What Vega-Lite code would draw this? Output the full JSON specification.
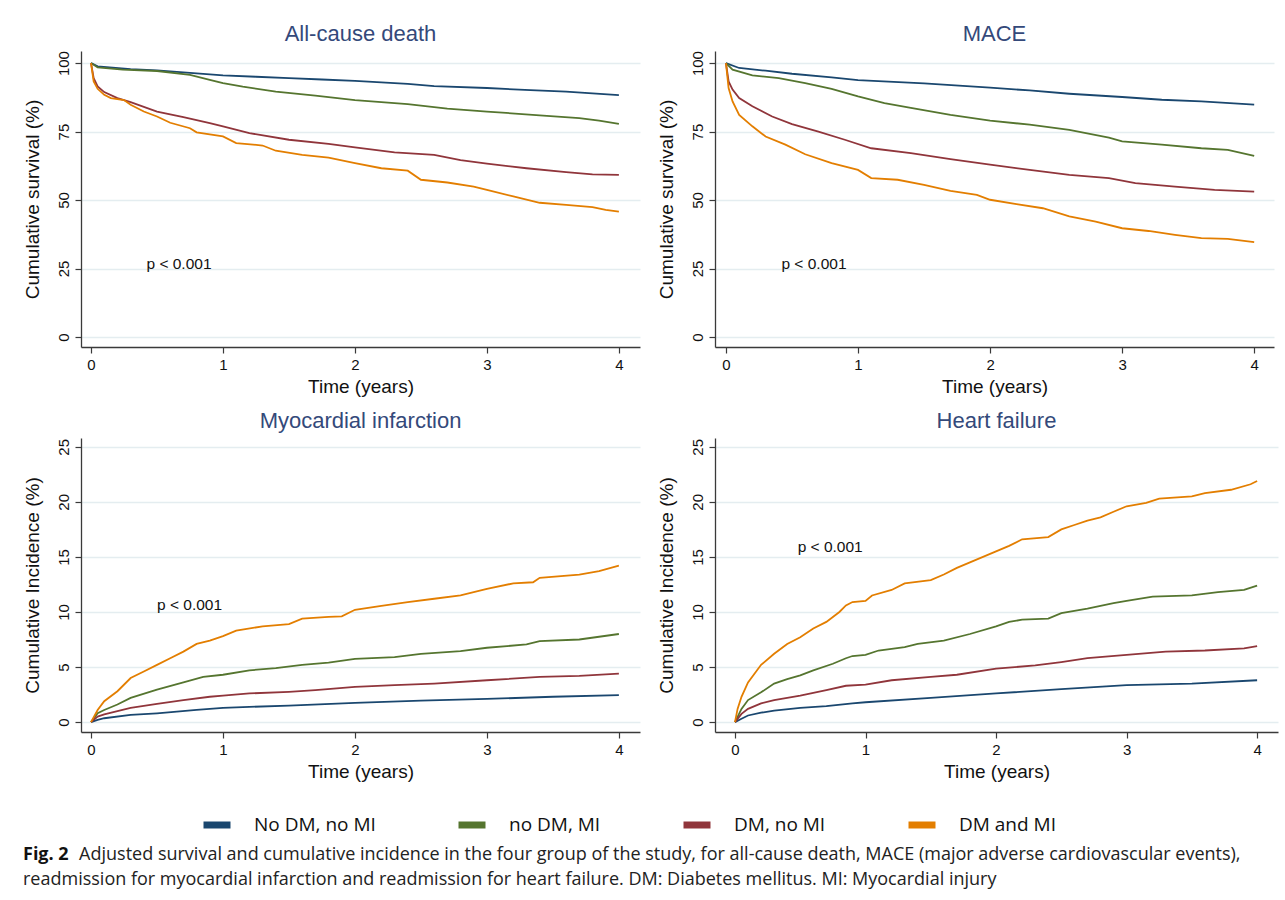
{
  "$schema": "https://vega.github.io/schema/vega-lite/v6.json",
  "background": "white",
  "padding": {"left": 22, "top": 22, "right": 5, "bottom": 5},
  "datasets": {
    "curves": [
      {"p":"death","g":"No DM, no MI","t":0,"v":100},{"p":"death","g":"No DM, no MI","t":0.05,"v":98.8},{"p":"death","g":"No DM, no MI","t":0.3,"v":97.8},{"p":"death","g":"No DM, no MI","t":0.5,"v":97.3},{"p":"death","g":"No DM, no MI","t":0.75,"v":96.4},{"p":"death","g":"No DM, no MI","t":1,"v":95.5},{"p":"death","g":"No DM, no MI","t":1.25,"v":95.0},{"p":"death","g":"No DM, no MI","t":1.5,"v":94.5},{"p":"death","g":"No DM, no MI","t":1.75,"v":94.0},{"p":"death","g":"No DM, no MI","t":2,"v":93.5},{"p":"death","g":"No DM, no MI","t":2.4,"v":92.4},{"p":"death","g":"No DM, no MI","t":2.6,"v":91.6},{"p":"death","g":"No DM, no MI","t":3,"v":90.9},{"p":"death","g":"No DM, no MI","t":3.33,"v":90.1},{"p":"death","g":"No DM, no MI","t":3.6,"v":89.6},{"p":"death","g":"No DM, no MI","t":4,"v":88.3},
      {"p":"death","g":"no DM, MI","t":0,"v":100},{"p":"death","g":"no DM, MI","t":0.05,"v":98.4},{"p":"death","g":"no DM, MI","t":0.24,"v":97.6},{"p":"death","g":"no DM, MI","t":0.5,"v":97.1},{"p":"death","g":"no DM, MI","t":0.75,"v":95.7},{"p":"death","g":"no DM, MI","t":0.9,"v":93.9},{"p":"death","g":"no DM, MI","t":1,"v":92.7},{"p":"death","g":"no DM, MI","t":1.15,"v":91.4},{"p":"death","g":"no DM, MI","t":1.4,"v":89.6},{"p":"death","g":"no DM, MI","t":1.7,"v":88.1},{"p":"death","g":"no DM, MI","t":2,"v":86.5},{"p":"death","g":"no DM, MI","t":2.4,"v":85.0},{"p":"death","g":"no DM, MI","t":2.7,"v":83.4},{"p":"death","g":"no DM, MI","t":3,"v":82.3},{"p":"death","g":"no DM, MI","t":3.4,"v":80.9},{"p":"death","g":"no DM, MI","t":3.7,"v":79.9},{"p":"death","g":"no DM, MI","t":3.85,"v":79.0},{"p":"death","g":"no DM, MI","t":4,"v":77.8},
      {"p":"death","g":"DM, no MI","t":0,"v":100},{"p":"death","g":"DM, no MI","t":0.02,"v":94.5},{"p":"death","g":"DM, no MI","t":0.05,"v":91.5},{"p":"death","g":"DM, no MI","t":0.1,"v":89.4},{"p":"death","g":"DM, no MI","t":0.2,"v":87.2},{"p":"death","g":"DM, no MI","t":0.3,"v":85.7},{"p":"death","g":"DM, no MI","t":0.5,"v":82.3},{"p":"death","g":"DM, no MI","t":0.7,"v":80.3},{"p":"death","g":"DM, no MI","t":0.9,"v":78.1},{"p":"death","g":"DM, no MI","t":1,"v":76.9},{"p":"death","g":"DM, no MI","t":1.2,"v":74.4},{"p":"death","g":"DM, no MI","t":1.5,"v":72.0},{"p":"death","g":"DM, no MI","t":1.8,"v":70.5},{"p":"death","g":"DM, no MI","t":2,"v":69.2},{"p":"death","g":"DM, no MI","t":2.3,"v":67.4},{"p":"death","g":"DM, no MI","t":2.6,"v":66.5},{"p":"death","g":"DM, no MI","t":2.8,"v":64.6},{"p":"death","g":"DM, no MI","t":3,"v":63.3},{"p":"death","g":"DM, no MI","t":3.3,"v":61.6},{"p":"death","g":"DM, no MI","t":3.6,"v":60.2},{"p":"death","g":"DM, no MI","t":3.8,"v":59.4},{"p":"death","g":"DM, no MI","t":4,"v":59.2},
      {"p":"death","g":"DM and MI","t":0,"v":100},{"p":"death","g":"DM and MI","t":0.02,"v":93.3},{"p":"death","g":"DM and MI","t":0.05,"v":90.6},{"p":"death","g":"DM and MI","t":0.1,"v":88.4},{"p":"death","g":"DM and MI","t":0.15,"v":87.2},{"p":"death","g":"DM and MI","t":0.25,"v":86.5},{"p":"death","g":"DM and MI","t":0.3,"v":84.8},{"p":"death","g":"DM and MI","t":0.4,"v":82.3},{"p":"death","g":"DM and MI","t":0.5,"v":80.5},{"p":"death","g":"DM and MI","t":0.6,"v":78.2},{"p":"death","g":"DM and MI","t":0.75,"v":76.2},{"p":"death","g":"DM and MI","t":0.8,"v":74.7},{"p":"death","g":"DM and MI","t":1,"v":73.2},{"p":"death","g":"DM and MI","t":1.1,"v":70.8},{"p":"death","g":"DM and MI","t":1.3,"v":69.9},{"p":"death","g":"DM and MI","t":1.4,"v":68.0},{"p":"death","g":"DM and MI","t":1.6,"v":66.5},{"p":"death","g":"DM and MI","t":1.8,"v":65.5},{"p":"death","g":"DM and MI","t":2,"v":63.5},{"p":"death","g":"DM and MI","t":2.2,"v":61.6},{"p":"death","g":"DM and MI","t":2.4,"v":60.7},{"p":"death","g":"DM and MI","t":2.5,"v":57.4},{"p":"death","g":"DM and MI","t":2.7,"v":56.4},{"p":"death","g":"DM and MI","t":2.9,"v":54.9},{"p":"death","g":"DM and MI","t":3,"v":53.7},{"p":"death","g":"DM and MI","t":3.2,"v":51.3},{"p":"death","g":"DM and MI","t":3.4,"v":49.0},{"p":"death","g":"DM and MI","t":3.6,"v":48.2},{"p":"death","g":"DM and MI","t":3.8,"v":47.4},{"p":"death","g":"DM and MI","t":3.9,"v":46.4},{"p":"death","g":"DM and MI","t":4,"v":45.8},

      {"p":"mace","g":"No DM, no MI","t":0,"v":100},{"p":"mace","g":"No DM, no MI","t":0.1,"v":98.2},{"p":"mace","g":"No DM, no MI","t":0.3,"v":97.2},{"p":"mace","g":"No DM, no MI","t":0.5,"v":96.1},{"p":"mace","g":"No DM, no MI","t":0.8,"v":94.8},{"p":"mace","g":"No DM, no MI","t":1,"v":93.8},{"p":"mace","g":"No DM, no MI","t":1.5,"v":92.6},{"p":"mace","g":"No DM, no MI","t":2,"v":91.0},{"p":"mace","g":"No DM, no MI","t":2.3,"v":90.0},{"p":"mace","g":"No DM, no MI","t":2.6,"v":88.8},{"p":"mace","g":"No DM, no MI","t":3,"v":87.6},{"p":"mace","g":"No DM, no MI","t":3.3,"v":86.6},{"p":"mace","g":"No DM, no MI","t":3.6,"v":86.0},{"p":"mace","g":"No DM, no MI","t":4,"v":84.8},
      {"p":"mace","g":"no DM, MI","t":0,"v":100},{"p":"mace","g":"no DM, MI","t":0.05,"v":97.6},{"p":"mace","g":"no DM, MI","t":0.2,"v":95.5},{"p":"mace","g":"no DM, MI","t":0.4,"v":94.5},{"p":"mace","g":"no DM, MI","t":0.6,"v":92.7},{"p":"mace","g":"no DM, MI","t":0.8,"v":90.6},{"p":"mace","g":"no DM, MI","t":1,"v":87.8},{"p":"mace","g":"no DM, MI","t":1.2,"v":85.4},{"p":"mace","g":"no DM, MI","t":1.4,"v":83.6},{"p":"mace","g":"no DM, MI","t":1.7,"v":81.1},{"p":"mace","g":"no DM, MI","t":2,"v":79.0},{"p":"mace","g":"no DM, MI","t":2.3,"v":77.5},{"p":"mace","g":"no DM, MI","t":2.6,"v":75.6},{"p":"mace","g":"no DM, MI","t":2.9,"v":72.8},{"p":"mace","g":"no DM, MI","t":3,"v":71.4},{"p":"mace","g":"no DM, MI","t":3.3,"v":70.2},{"p":"mace","g":"no DM, MI","t":3.6,"v":68.9},{"p":"mace","g":"no DM, MI","t":3.8,"v":68.3},{"p":"mace","g":"no DM, MI","t":4,"v":66.1},
      {"p":"mace","g":"DM, no MI","t":0,"v":100},{"p":"mace","g":"DM, no MI","t":0.02,"v":93.3},{"p":"mace","g":"DM, no MI","t":0.05,"v":90.3},{"p":"mace","g":"DM, no MI","t":0.1,"v":87.2},{"p":"mace","g":"DM, no MI","t":0.2,"v":84.2},{"p":"mace","g":"DM, no MI","t":0.35,"v":80.5},{"p":"mace","g":"DM, no MI","t":0.5,"v":77.7},{"p":"mace","g":"DM, no MI","t":0.7,"v":75.0},{"p":"mace","g":"DM, no MI","t":0.9,"v":72.0},{"p":"mace","g":"DM, no MI","t":1.1,"v":68.9},{"p":"mace","g":"DM, no MI","t":1.4,"v":67.1},{"p":"mace","g":"DM, no MI","t":1.7,"v":64.9},{"p":"mace","g":"DM, no MI","t":2,"v":62.9},{"p":"mace","g":"DM, no MI","t":2.3,"v":61.0},{"p":"mace","g":"DM, no MI","t":2.6,"v":59.2},{"p":"mace","g":"DM, no MI","t":2.9,"v":58.0},{"p":"mace","g":"DM, no MI","t":3.1,"v":56.2},{"p":"mace","g":"DM, no MI","t":3.4,"v":54.9},{"p":"mace","g":"DM, no MI","t":3.7,"v":53.7},{"p":"mace","g":"DM, no MI","t":4,"v":53.1},
      {"p":"mace","g":"DM and MI","t":0,"v":100},{"p":"mace","g":"DM and MI","t":0.02,"v":90.9},{"p":"mace","g":"DM and MI","t":0.05,"v":86.0},{"p":"mace","g":"DM and MI","t":0.1,"v":81.1},{"p":"mace","g":"DM and MI","t":0.2,"v":76.9},{"p":"mace","g":"DM and MI","t":0.3,"v":73.2},{"p":"mace","g":"DM and MI","t":0.45,"v":70.2},{"p":"mace","g":"DM and MI","t":0.6,"v":66.7},{"p":"mace","g":"DM and MI","t":0.8,"v":63.5},{"p":"mace","g":"DM and MI","t":1,"v":61.0},{"p":"mace","g":"DM and MI","t":1.1,"v":58.0},{"p":"mace","g":"DM and MI","t":1.3,"v":57.4},{"p":"mace","g":"DM and MI","t":1.5,"v":55.5},{"p":"mace","g":"DM and MI","t":1.7,"v":53.3},{"p":"mace","g":"DM and MI","t":1.9,"v":51.9},{"p":"mace","g":"DM and MI","t":2,"v":50.1},{"p":"mace","g":"DM and MI","t":2.2,"v":48.5},{"p":"mace","g":"DM and MI","t":2.4,"v":47.0},{"p":"mace","g":"DM and MI","t":2.6,"v":44.0},{"p":"mace","g":"DM and MI","t":2.8,"v":42.1},{"p":"mace","g":"DM and MI","t":3,"v":39.7},{"p":"mace","g":"DM and MI","t":3.2,"v":38.7},{"p":"mace","g":"DM and MI","t":3.4,"v":37.3},{"p":"mace","g":"DM and MI","t":3.6,"v":36.1},{"p":"mace","g":"DM and MI","t":3.8,"v":35.8},{"p":"mace","g":"DM and MI","t":4,"v":34.6},

      {"p":"mi","g":"No DM, no MI","t":0,"v":0},{"p":"mi","g":"No DM, no MI","t":0.05,"v":0.2},{"p":"mi","g":"No DM, no MI","t":0.1,"v":0.35},{"p":"mi","g":"No DM, no MI","t":0.3,"v":0.65},{"p":"mi","g":"No DM, no MI","t":0.5,"v":0.8},{"p":"mi","g":"No DM, no MI","t":0.8,"v":1.1},{"p":"mi","g":"No DM, no MI","t":1,"v":1.3},{"p":"mi","g":"No DM, no MI","t":1.5,"v":1.5},{"p":"mi","g":"No DM, no MI","t":2,"v":1.75},{"p":"mi","g":"No DM, no MI","t":2.5,"v":1.95},{"p":"mi","g":"No DM, no MI","t":3,"v":2.1},{"p":"mi","g":"No DM, no MI","t":3.5,"v":2.3},{"p":"mi","g":"No DM, no MI","t":4,"v":2.45},
      {"p":"mi","g":"no DM, MI","t":0,"v":0},{"p":"mi","g":"no DM, MI","t":0.05,"v":0.8},{"p":"mi","g":"no DM, MI","t":0.1,"v":1.1},{"p":"mi","g":"no DM, MI","t":0.2,"v":1.6},{"p":"mi","g":"no DM, MI","t":0.3,"v":2.2},{"p":"mi","g":"no DM, MI","t":0.5,"v":2.95},{"p":"mi","g":"no DM, MI","t":0.7,"v":3.6},{"p":"mi","g":"no DM, MI","t":0.85,"v":4.1},{"p":"mi","g":"no DM, MI","t":1,"v":4.3},{"p":"mi","g":"no DM, MI","t":1.2,"v":4.7},{"p":"mi","g":"no DM, MI","t":1.4,"v":4.9},{"p":"mi","g":"no DM, MI","t":1.6,"v":5.2},{"p":"mi","g":"no DM, MI","t":1.8,"v":5.4},{"p":"mi","g":"no DM, MI","t":2,"v":5.75},{"p":"mi","g":"no DM, MI","t":2.3,"v":5.9},{"p":"mi","g":"no DM, MI","t":2.5,"v":6.2},{"p":"mi","g":"no DM, MI","t":2.8,"v":6.45},{"p":"mi","g":"no DM, MI","t":3,"v":6.75},{"p":"mi","g":"no DM, MI","t":3.3,"v":7.05},{"p":"mi","g":"no DM, MI","t":3.4,"v":7.35},{"p":"mi","g":"no DM, MI","t":3.7,"v":7.5},{"p":"mi","g":"no DM, MI","t":4,"v":8.0},
      {"p":"mi","g":"DM, no MI","t":0,"v":0},{"p":"mi","g":"DM, no MI","t":0.05,"v":0.5},{"p":"mi","g":"DM, no MI","t":0.1,"v":0.7},{"p":"mi","g":"DM, no MI","t":0.2,"v":1.0},{"p":"mi","g":"DM, no MI","t":0.3,"v":1.3},{"p":"mi","g":"DM, no MI","t":0.5,"v":1.65},{"p":"mi","g":"DM, no MI","t":0.7,"v":2.0},{"p":"mi","g":"DM, no MI","t":0.9,"v":2.3},{"p":"mi","g":"DM, no MI","t":1,"v":2.4},{"p":"mi","g":"DM, no MI","t":1.2,"v":2.6},{"p":"mi","g":"DM, no MI","t":1.5,"v":2.75},{"p":"mi","g":"DM, no MI","t":1.7,"v":2.9},{"p":"mi","g":"DM, no MI","t":2,"v":3.2},{"p":"mi","g":"DM, no MI","t":2.3,"v":3.35},{"p":"mi","g":"DM, no MI","t":2.6,"v":3.5},{"p":"mi","g":"DM, no MI","t":3,"v":3.8},{"p":"mi","g":"DM, no MI","t":3.4,"v":4.1},{"p":"mi","g":"DM, no MI","t":3.7,"v":4.2},{"p":"mi","g":"DM, no MI","t":4,"v":4.4},
      {"p":"mi","g":"DM and MI","t":0,"v":0},{"p":"mi","g":"DM and MI","t":0.05,"v":1.1},{"p":"mi","g":"DM and MI","t":0.1,"v":1.9},{"p":"mi","g":"DM and MI","t":0.2,"v":2.8},{"p":"mi","g":"DM and MI","t":0.3,"v":4.0},{"p":"mi","g":"DM and MI","t":0.4,"v":4.6},{"p":"mi","g":"DM and MI","t":0.5,"v":5.2},{"p":"mi","g":"DM and MI","t":0.6,"v":5.8},{"p":"mi","g":"DM and MI","t":0.7,"v":6.4},{"p":"mi","g":"DM and MI","t":0.8,"v":7.1},{"p":"mi","g":"DM and MI","t":0.9,"v":7.4},{"p":"mi","g":"DM and MI","t":1,"v":7.8},{"p":"mi","g":"DM and MI","t":1.1,"v":8.3},{"p":"mi","g":"DM and MI","t":1.3,"v":8.7},{"p":"mi","g":"DM and MI","t":1.5,"v":8.9},{"p":"mi","g":"DM and MI","t":1.6,"v":9.4},{"p":"mi","g":"DM and MI","t":1.8,"v":9.55},{"p":"mi","g":"DM and MI","t":1.9,"v":9.6},{"p":"mi","g":"DM and MI","t":2,"v":10.2},{"p":"mi","g":"DM and MI","t":2.2,"v":10.55},{"p":"mi","g":"DM and MI","t":2.4,"v":10.9},{"p":"mi","g":"DM and MI","t":2.6,"v":11.2},{"p":"mi","g":"DM and MI","t":2.8,"v":11.5},{"p":"mi","g":"DM and MI","t":3,"v":12.1},{"p":"mi","g":"DM and MI","t":3.2,"v":12.6},{"p":"mi","g":"DM and MI","t":3.35,"v":12.7},{"p":"mi","g":"DM and MI","t":3.4,"v":13.1},{"p":"mi","g":"DM and MI","t":3.7,"v":13.4},{"p":"mi","g":"DM and MI","t":3.85,"v":13.7},{"p":"mi","g":"DM and MI","t":4,"v":14.2},

      {"p":"hf","g":"No DM, no MI","t":0,"v":0},{"p":"hf","g":"No DM, no MI","t":0.05,"v":0.3},{"p":"hf","g":"No DM, no MI","t":0.1,"v":0.6},{"p":"hf","g":"No DM, no MI","t":0.2,"v":0.85},{"p":"hf","g":"No DM, no MI","t":0.3,"v":1.05},{"p":"hf","g":"No DM, no MI","t":0.5,"v":1.3},{"p":"hf","g":"No DM, no MI","t":0.7,"v":1.45},{"p":"hf","g":"No DM, no MI","t":0.9,"v":1.7},{"p":"hf","g":"No DM, no MI","t":1,"v":1.8},{"p":"hf","g":"No DM, no MI","t":1.5,"v":2.2},{"p":"hf","g":"No DM, no MI","t":2,"v":2.6},{"p":"hf","g":"No DM, no MI","t":2.5,"v":3.0},{"p":"hf","g":"No DM, no MI","t":3,"v":3.35},{"p":"hf","g":"No DM, no MI","t":3.5,"v":3.5},{"p":"hf","g":"No DM, no MI","t":4,"v":3.8},
      {"p":"hf","g":"no DM, MI","t":0,"v":0},{"p":"hf","g":"no DM, MI","t":0.05,"v":1.2},{"p":"hf","g":"no DM, MI","t":0.1,"v":2.0},{"p":"hf","g":"no DM, MI","t":0.2,"v":2.7},{"p":"hf","g":"no DM, MI","t":0.3,"v":3.5},{"p":"hf","g":"no DM, MI","t":0.4,"v":3.9},{"p":"hf","g":"no DM, MI","t":0.5,"v":4.25},{"p":"hf","g":"no DM, MI","t":0.6,"v":4.7},{"p":"hf","g":"no DM, MI","t":0.75,"v":5.3},{"p":"hf","g":"no DM, MI","t":0.85,"v":5.8},{"p":"hf","g":"no DM, MI","t":0.9,"v":6.0},{"p":"hf","g":"no DM, MI","t":1,"v":6.1},{"p":"hf","g":"no DM, MI","t":1.1,"v":6.5},{"p":"hf","g":"no DM, MI","t":1.3,"v":6.8},{"p":"hf","g":"no DM, MI","t":1.4,"v":7.1},{"p":"hf","g":"no DM, MI","t":1.6,"v":7.4},{"p":"hf","g":"no DM, MI","t":1.8,"v":8.0},{"p":"hf","g":"no DM, MI","t":2,"v":8.7},{"p":"hf","g":"no DM, MI","t":2.1,"v":9.1},{"p":"hf","g":"no DM, MI","t":2.2,"v":9.3},{"p":"hf","g":"no DM, MI","t":2.4,"v":9.4},{"p":"hf","g":"no DM, MI","t":2.5,"v":9.9},{"p":"hf","g":"no DM, MI","t":2.7,"v":10.3},{"p":"hf","g":"no DM, MI","t":2.9,"v":10.8},{"p":"hf","g":"no DM, MI","t":3,"v":11.0},{"p":"hf","g":"no DM, MI","t":3.2,"v":11.4},{"p":"hf","g":"no DM, MI","t":3.5,"v":11.5},{"p":"hf","g":"no DM, MI","t":3.7,"v":11.8},{"p":"hf","g":"no DM, MI","t":3.9,"v":12.0},{"p":"hf","g":"no DM, MI","t":4,"v":12.4},
      {"p":"hf","g":"DM, no MI","t":0,"v":0},{"p":"hf","g":"DM, no MI","t":0.05,"v":0.75},{"p":"hf","g":"DM, no MI","t":0.1,"v":1.2},{"p":"hf","g":"DM, no MI","t":0.2,"v":1.7},{"p":"hf","g":"DM, no MI","t":0.3,"v":2.0},{"p":"hf","g":"DM, no MI","t":0.5,"v":2.4},{"p":"hf","g":"DM, no MI","t":0.7,"v":2.9},{"p":"hf","g":"DM, no MI","t":0.85,"v":3.3},{"p":"hf","g":"DM, no MI","t":1,"v":3.4},{"p":"hf","g":"DM, no MI","t":1.2,"v":3.8},{"p":"hf","g":"DM, no MI","t":1.5,"v":4.1},{"p":"hf","g":"DM, no MI","t":1.7,"v":4.3},{"p":"hf","g":"DM, no MI","t":2,"v":4.85},{"p":"hf","g":"DM, no MI","t":2.3,"v":5.15},{"p":"hf","g":"DM, no MI","t":2.5,"v":5.45},{"p":"hf","g":"DM, no MI","t":2.7,"v":5.8},{"p":"hf","g":"DM, no MI","t":3,"v":6.1},{"p":"hf","g":"DM, no MI","t":3.3,"v":6.4},{"p":"hf","g":"DM, no MI","t":3.6,"v":6.5},{"p":"hf","g":"DM, no MI","t":3.9,"v":6.7},{"p":"hf","g":"DM, no MI","t":4,"v":6.9},
      {"p":"hf","g":"DM and MI","t":0,"v":0},{"p":"hf","g":"DM and MI","t":0.02,"v":1.2},{"p":"hf","g":"DM and MI","t":0.05,"v":2.3},{"p":"hf","g":"DM and MI","t":0.1,"v":3.6},{"p":"hf","g":"DM and MI","t":0.2,"v":5.2},{"p":"hf","g":"DM and MI","t":0.3,"v":6.2},{"p":"hf","g":"DM and MI","t":0.4,"v":7.1},{"p":"hf","g":"DM and MI","t":0.5,"v":7.7},{"p":"hf","g":"DM and MI","t":0.6,"v":8.5},{"p":"hf","g":"DM and MI","t":0.7,"v":9.1},{"p":"hf","g":"DM and MI","t":0.8,"v":10.0},{"p":"hf","g":"DM and MI","t":0.85,"v":10.6},{"p":"hf","g":"DM and MI","t":0.9,"v":10.9},{"p":"hf","g":"DM and MI","t":1,"v":11.0},{"p":"hf","g":"DM and MI","t":1.05,"v":11.5},{"p":"hf","g":"DM and MI","t":1.2,"v":12.0},{"p":"hf","g":"DM and MI","t":1.3,"v":12.6},{"p":"hf","g":"DM and MI","t":1.5,"v":12.9},{"p":"hf","g":"DM and MI","t":1.6,"v":13.4},{"p":"hf","g":"DM and MI","t":1.7,"v":14.0},{"p":"hf","g":"DM and MI","t":1.8,"v":14.5},{"p":"hf","g":"DM and MI","t":1.9,"v":15.0},{"p":"hf","g":"DM and MI","t":2,"v":15.5},{"p":"hf","g":"DM and MI","t":2.1,"v":16.0},{"p":"hf","g":"DM and MI","t":2.2,"v":16.6},{"p":"hf","g":"DM and MI","t":2.4,"v":16.8},{"p":"hf","g":"DM and MI","t":2.5,"v":17.5},{"p":"hf","g":"DM and MI","t":2.6,"v":17.9},{"p":"hf","g":"DM and MI","t":2.7,"v":18.3},{"p":"hf","g":"DM and MI","t":2.8,"v":18.6},{"p":"hf","g":"DM and MI","t":2.9,"v":19.1},{"p":"hf","g":"DM and MI","t":3,"v":19.6},{"p":"hf","g":"DM and MI","t":3.15,"v":19.9},{"p":"hf","g":"DM and MI","t":3.25,"v":20.3},{"p":"hf","g":"DM and MI","t":3.5,"v":20.5},{"p":"hf","g":"DM and MI","t":3.6,"v":20.8},{"p":"hf","g":"DM and MI","t":3.8,"v":21.1},{"p":"hf","g":"DM and MI","t":3.95,"v":21.6},{"p":"hf","g":"DM and MI","t":4,"v":21.9}
    ],
    "notes": [
      {"p":"death","t":0.42,"v":26.6,"label":"p < 0.001"},
      {"p":"mace","t":0.42,"v":26.6,"label":"p < 0.001"},
      {"p":"mi","t":0.5,"v":10.6,"label":"p < 0.001"},
      {"p":"hf","t":0.48,"v":15.9,"label":"p < 0.001"}
    ]
  },
  "title": {
    "text": "Fig. 2",
    "subtitle": ["\u200b\u00a0\u00a0\u00a0\u00a0\u00a0\u00a0\u00a0\u00a0\u00a0\u00a0\u00a0\u00a0Adjusted survival and cumulative incidence in the four group of the study, for all-cause death, MACE (major adverse cardiovascular events),", "readmission for myocardial infarction and readmission for heart failure. DM: Diabetes mellitus. MI: Myocardial injury"],
    "orient": "bottom", "anchor": "start", "frame": "bounds",
    "font": "Open Sans", "fontSize": 18, "fontWeight": "bold", "color": "#111111",
    "subtitleFont": "Open Sans", "subtitleFontSize": 18, "subtitleFontWeight": "normal", "subtitleColor": "#222222",
    "subtitlePadding": -18, "subtitleLineHeight": 25, "offset": 7
  },
  "columns": 2,
  "bounds": "flush",
  "align": "all",
  "spacing": {"row": 91, "column": 71},
  "concat": [
    {
      "width": 559, "height": 296,
      "title": {"text": "All-cause death"},
      "layer": [
        {
          "data": {"name": "curves"},
          "transform": [{"filter": "datum.p === 'death'"}],
          "mark": {"type": "line", "strokeWidth": 1.8},
          "encoding": {
            "x": {"field": "t", "type": "quantitative", "scale": {"domain": [-0.076, 4.16], "nice": false, "zero": false}, "axis": {"values": [0,1,2,3,4], "format": "d", "title": "Time (years)"}},
            "y": {"field": "v", "type": "quantitative", "scale": {"domain": [-3.65, 104.4], "nice": false, "zero": false}, "axis": {"values": [0,25,50,75,100], "format": "d", "title": "Cumulative survival (%)"}},
            "color": {"field": "g", "type": "nominal", "scale": {"domain": ["No DM, no MI", "no DM, MI", "DM, no MI", "DM and MI"], "range": ["#1a476f", "#55752f", "#90353b", "#e37e00"]},
              "legend": {"title": null, "orient": "none", "legendX": 119, "legendY": 757, "direction": "horizontal"}}
          }
        },
        {
          "data": {"name": "notes"},
          "transform": [{"filter": "datum.p === 'death'"}],
          "mark": {"type": "text", "align": "left", "baseline": "middle", "font": "Liberation Sans", "fontSize": 15.5, "color": "#111111"},
          "encoding": {"x": {"field": "t", "type": "quantitative"}, "y": {"field": "v", "type": "quantitative"}, "text": {"field": "label"}}
        }
      ]
    },
    {
      "width": 559, "height": 296,
      "title": {"text": "MACE"},
      "layer": [
        {
          "data": {"name": "curves"},
          "transform": [{"filter": "datum.p === 'mace'"}],
          "mark": {"type": "line", "strokeWidth": 1.8},
          "encoding": {
            "x": {"field": "t", "type": "quantitative", "scale": {"domain": [-0.083, 4.15], "nice": false, "zero": false}, "axis": {"values": [0,1,2,3,4], "format": "d", "title": "Time (years)"}},
            "y": {"field": "v", "type": "quantitative", "scale": {"domain": [-3.65, 104.4], "nice": false, "zero": false}, "axis": {"values": [0,25,50,75,100], "format": "d", "title": "Cumulative survival (%)"}},
            "color": {"field": "g", "type": "nominal"}
          }
        },
        {
          "data": {"name": "notes"},
          "transform": [{"filter": "datum.p === 'mace'"}],
          "mark": {"type": "text", "align": "left", "baseline": "middle", "font": "Liberation Sans", "fontSize": 15.5, "color": "#111111"},
          "encoding": {"x": {"field": "t", "type": "quantitative"}, "y": {"field": "v", "type": "quantitative"}, "text": {"field": "label"}}
        }
      ]
    },
    {
      "width": 559, "height": 294,
      "title": {"text": "Myocardial infarction"},
      "layer": [
        {
          "data": {"name": "curves"},
          "transform": [{"filter": "datum.p === 'mi'"}],
          "mark": {"type": "line", "strokeWidth": 1.8},
          "encoding": {
            "x": {"field": "t", "type": "quantitative", "scale": {"domain": [-0.076, 4.16], "nice": false, "zero": false}, "axis": {"values": [0,1,2,3,4], "format": "d", "title": "Time (years)"}},
            "y": {"field": "v", "type": "quantitative", "scale": {"domain": [-0.9, 25.8], "nice": false, "zero": false}, "axis": {"values": [0,5,10,15,20,25], "format": "d", "title": "Cumulative Incidence (%)"}},
            "color": {"field": "g", "type": "nominal"}
          }
        },
        {
          "data": {"name": "notes"},
          "transform": [{"filter": "datum.p === 'mi'"}],
          "mark": {"type": "text", "align": "left", "baseline": "middle", "font": "Liberation Sans", "fontSize": 15.5, "color": "#111111"},
          "encoding": {"x": {"field": "t", "type": "quantitative"}, "y": {"field": "v", "type": "quantitative"}, "text": {"field": "label"}}
        }
      ]
    },
    {
      "width": 563, "height": 294,
      "title": {"text": "Heart failure"},
      "layer": [
        {
          "data": {"name": "curves"},
          "transform": [{"filter": "datum.p === 'hf'"}],
          "mark": {"type": "line", "strokeWidth": 1.8},
          "encoding": {
            "x": {"field": "t", "type": "quantitative", "scale": {"domain": [-0.153, 4.16], "nice": false, "zero": false}, "axis": {"values": [0,1,2,3,4], "format": "d", "title": "Time (years)"}},
            "y": {"field": "v", "type": "quantitative", "scale": {"domain": [-0.9, 25.8], "nice": false, "zero": false}, "axis": {"values": [0,5,10,15,20,25], "format": "d", "title": "Cumulative Incidence (%)"}},
            "color": {"field": "g", "type": "nominal"}
          }
        },
        {
          "data": {"name": "notes"},
          "transform": [{"filter": "datum.p === 'hf'"}],
          "mark": {"type": "text", "align": "left", "baseline": "middle", "font": "Liberation Sans", "fontSize": 15.5, "color": "#111111"},
          "encoding": {"x": {"field": "t", "type": "quantitative"}, "y": {"field": "v", "type": "quantitative"}, "text": {"field": "label"}}
        }
      ]
    }
  ],
  "config": {
    "view": {"stroke": null},
    "font": "Liberation Sans",
    "title": {"font": "Liberation Sans", "fontSize": 22, "fontWeight": "normal", "color": "#34497a", "anchor": "middle", "offset": 5},
    "axis": {"domainColor": "#3a3a3a", "domainWidth": 1.3, "tickColor": "#3a3a3a", "tickWidth": 1.2, "tickSize": 6, "labelFont": "Liberation Sans", "labelFontSize": 15, "labelColor": "#111111", "titleFont": "Liberation Sans", "titleFontSize": 19, "titleFontWeight": "normal", "titleColor": "#111111", "gridColor": "#e4edf0", "gridWidth": 1.5},
    "axisX": {"grid": false, "labelPadding": 4, "titlePadding": 5},
    "axisY": {"grid": true, "labelAngle": 270, "labelAlign": "center", "labelBaseline": "bottom", "labelPadding": 4, "titlePadding": 14},
    "legend": {"symbolType": "stroke", "symbolSize": 729, "symbolStrokeWidth": 7, "labelFont": "Open Sans", "labelFontSize": 19, "labelColor": "#111111", "labelOffset": 20, "columnPadding": 68, "labelLimit": 300}
  }
}
